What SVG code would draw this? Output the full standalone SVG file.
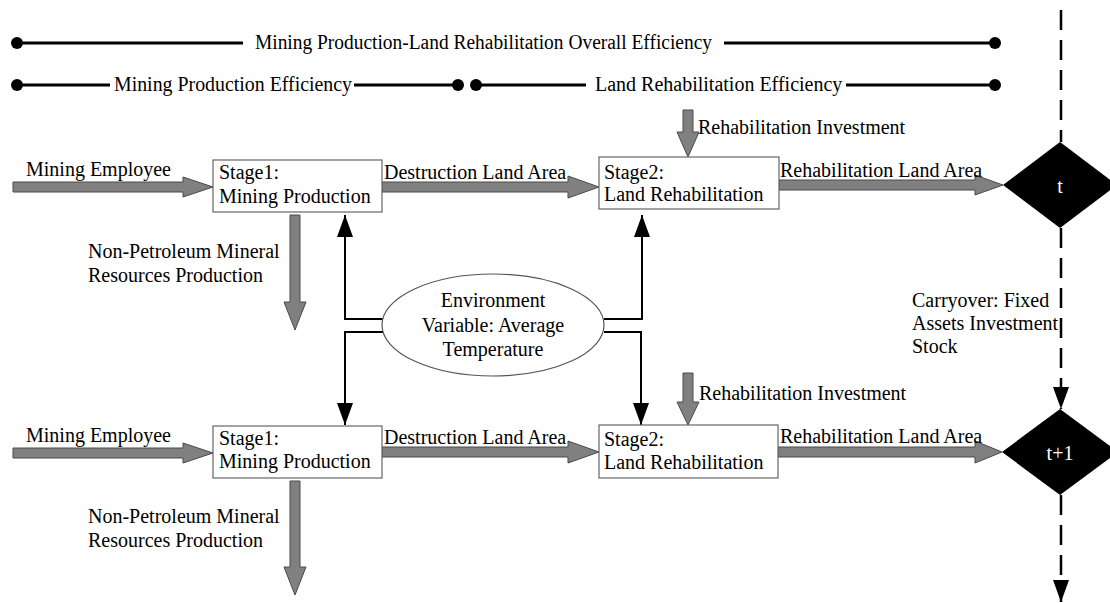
<svg xmlns="http://www.w3.org/2000/svg" width="1110" height="603" viewBox="0 0 1110 603">
<style>
text{font-family:"Liberation Serif","Times New Roman",serif;font-size:20px;fill:#000}
.box{fill:#fff;stroke:#666;stroke-width:1.2}
.flow{fill:#808080;stroke:#4a4a4a;stroke-width:1}
.conn{fill:none;stroke:#000;stroke-width:2}
.bar{stroke:#000;stroke-width:3;fill:none}
.dash{fill:none;stroke:#000;stroke-width:2.5;stroke-dasharray:20 10}
.dia{fill:#000}
.wt{fill:#fff;text-anchor:middle}
.mid{text-anchor:middle}
</style>
<defs>
<marker id="ah" markerUnits="userSpaceOnUse" markerWidth="24" markerHeight="18" refX="22" refY="8" orient="auto">
<path d="M0,0 L22,8 L0,16 Z" fill="#000"/>
</marker>
</defs>

<g id="efficiency-bars">
<line class="bar" x1="17" y1="43" x2="243" y2="43"/>
<line class="bar" x1="724" y1="43" x2="995" y2="43"/>
<circle cx="17" cy="43" r="6"/>
<circle cx="995" cy="43" r="6"/>
<text x="255" y="49" textLength="457" lengthAdjust="spacingAndGlyphs">Mining Production-Land Rehabilitation Overall Efficiency</text>
<line class="bar" x1="17" y1="85" x2="110" y2="85"/>
<line class="bar" x1="354" y1="85" x2="458" y2="85"/>
<circle cx="17" cy="85" r="6"/>
<circle cx="458" cy="85" r="6"/>
<text x="114" y="91" textLength="238" lengthAdjust="spacingAndGlyphs">Mining Production Efficiency</text>
<line class="bar" x1="476" y1="85" x2="586" y2="85"/>
<line class="bar" x1="846" y1="85" x2="995" y2="85"/>
<circle cx="476" cy="85" r="6"/>
<circle cx="995" cy="85" r="6"/>
<text x="595" y="91">Land Rehabilitation Efficiency</text>
</g>

<g id="connectors">
<polygon class="flow" points="13,182 183,182 183,177 213,187 183,197 183,192 13,192"/>
<polygon class="flow" points="13,448 183,448 183,443 213,453 183,463 183,458 13,458"/>
<polygon class="flow" points="382,182 568,182 568,176 599,187 568,198 568,192 382,192"/>
<polygon class="flow" points="382,447 568,447 568,441 599,452 568,463 568,457 382,457"/>
<polygon class="flow" points="779,180 975,180 975,175 1003,185 975,195 975,190 779,190"/>
<polygon class="flow" points="778,447 975,447 975,441 1002,452 975,463 975,457 778,457"/>
<polygon class="flow" points="290,215 300,215 300,302 306,302 295,330 284,302 290,302"/>
<polygon class="flow" points="290,481 300,481 300,567 306,567 295,595 284,567 290,567"/>
<polygon class="flow" points="683,110 693,110 693,132 699,132 688,157 677,132 683,132"/>
<polygon class="flow" points="683,373 693,373 693,402 699,402 688,425 677,402 683,402"/>
<path class="conn" d="M383,319 H345 V215" marker-end="url(#ah)"/>
<path class="conn" d="M383,332 H345 V425" marker-end="url(#ah)"/>
<path class="conn" d="M604,319 H642 V215" marker-end="url(#ah)"/>
<path class="conn" d="M604,332 H641 V425" marker-end="url(#ah)"/>
<line class="dash" x1="1061" y1="10" x2="1061" y2="142"/>
<path class="dash" d="M1061,228 V409" marker-end="url(#ah)"/>
<path class="dash" d="M1061,495 V602" marker-end="url(#ah)"/>
</g>

<g id="labels">
<text x="26" y="176">Mining Employee</text>
<text x="26" y="442">Mining Employee</text>
<text x="384" y="179">Destruction Land Area</text>
<text x="384" y="444">Destruction Land Area</text>
<text x="780" y="177">Rehabilitation Land Area</text>
<text x="780" y="443">Rehabilitation Land Area</text>
<text x="698" y="134">Rehabilitation Investment</text>
<text x="699" y="400">Rehabilitation Investment</text>
<text x="88" y="258">Non-Petroleum Mineral</text>
<text x="88" y="282">Resources Production</text>
<text x="88" y="523">Non-Petroleum Mineral</text>
<text x="88" y="547">Resources Production</text>
<text x="912" y="307">Carryover: Fixed</text>
<text x="912" y="330">Assets Investment</text>
<text x="912" y="353">Stock</text>
</g>

<g id="stage1-t">
<rect class="box" x="213" y="160" width="169" height="52"/>
<text x="219" y="179">Stage1:</text>
<text x="219" y="203">Mining Production</text>
</g>
<g id="stage2-t">
<rect class="box" x="599" y="157" width="180" height="52"/>
<text x="604" y="179">Stage2:</text>
<text x="604" y="201">Land Rehabilitation</text>
</g>
<g id="stage1-t1">
<rect class="box" x="213" y="426" width="169" height="52"/>
<text x="219" y="445">Stage1:</text>
<text x="219" y="468">Mining Production</text>
</g>
<g id="stage2-t1">
<rect class="box" x="599" y="425" width="179" height="53"/>
<text x="604" y="446">Stage2:</text>
<text x="604" y="469">Land Rehabilitation</text>
</g>
<g id="environment">
<ellipse cx="493" cy="325" rx="111" ry="51" fill="#fff" stroke="#555" stroke-width="1.2"/>
<text class="mid" x="493" y="307">Environment</text>
<text class="mid" x="493" y="332">Variable: Average</text>
<text class="mid" x="493" y="356">Temperature</text>
</g>
<g id="period-t">
<polygon class="dia" points="1003,185 1060,142 1117,185 1060,228"/>
<text class="wt" x="1060" y="193">t</text>
</g>
<g id="period-t1">
<polygon class="dia" points="1002,452 1060,409 1118,452 1060,495"/>
<text class="wt" x="1060" y="460">t+1</text>
</g>
</svg>
